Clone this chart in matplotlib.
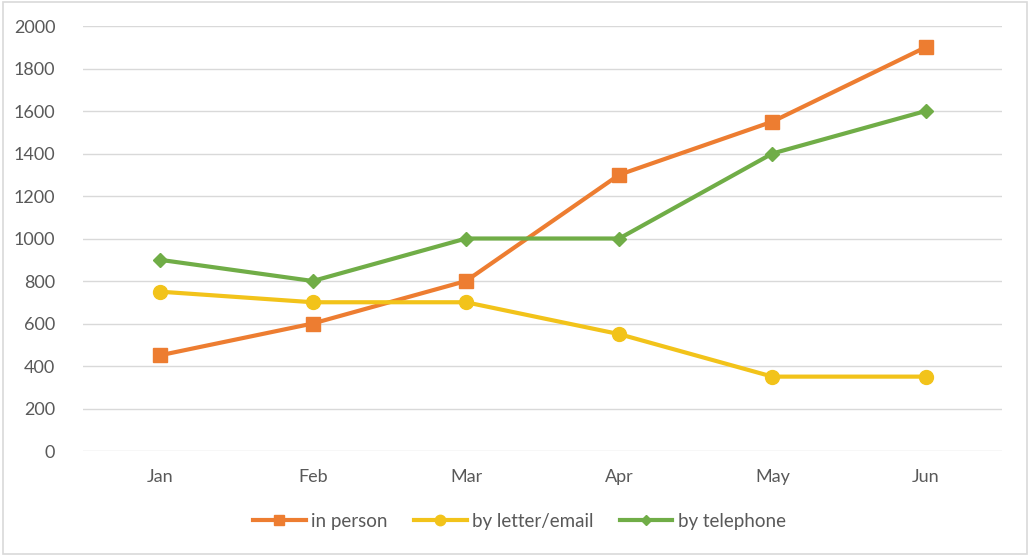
import matplotlib.pyplot as plt
from matplotlib.patches import Rectangle

months = ['Jan', 'Feb', 'Mar', 'Apr', 'May', 'Jun']
in_person = [450, 600, 800, 1300, 1550, 1900]
by_letter = [750, 700, 700, 550, 350, 350]
by_phone = [900, 800, 1000, 1000, 1400, 1600]
yticks = [0, 200, 400, 600, 800, 1000, 1200, 1400, 1600, 1800, 2000]


def main():
    plt.rcParams['font.family'] = ['Lato', 'DejaVu Sans']
    fig = plt.figure(figsize=(10.3, 5.57), dpi=100)
    # light frame round the whole picture
    fig.patches.append(Rectangle((0.003, 0.006), 0.994, 0.99, transform=fig.transFigure,
                                 fill=False, edgecolor='#D9D9D9', linewidth=1.2))
    ax = fig.add_axes([0.0806, 0.1903, 0.8924, 0.763])

    x = range(len(months))
    ax.plot(x, in_person, color='#ED7D31', lw=3, marker='s', ms=10, label='in person')
    ax.plot(x, by_letter, color='#F2C31A', lw=3, marker='o', ms=10, label='by letter/email')
    ax.plot(x, by_phone, color='#70AD47', lw=3, marker='D', ms=7, label='by telephone')

    ax.set_xlim(-0.5, len(months) - 0.5)
    ax.set_ylim(0, 2000)
    ax.set_yticks(yticks)
    ax.set_xticks(list(x))
    ax.set_xticklabels(months)
    ax.yaxis.grid(True, color='#D9D9D9', lw=1)
    ax.set_axisbelow(True)
    for s in ax.spines.values():
        s.set_visible(False)
    ax.tick_params(length=0, labelsize=13, colors='#595959')
    ax.tick_params(axis='x', pad=13)
    ax.tick_params(axis='y', pad=20)

    leg = ax.legend(loc='upper center', bbox_to_anchor=(0.475, -0.105), ncol=3,
                    frameon=False, fontsize=13.5, handlelength=2.8, columnspacing=1.4,
                    handletextpad=0.3, markerscale=0.75)
    for t in leg.get_texts():
        t.set_color('#595959')

    plt.savefig('out.png', dpi=100)


if __name__ == '__main__':
    main()
